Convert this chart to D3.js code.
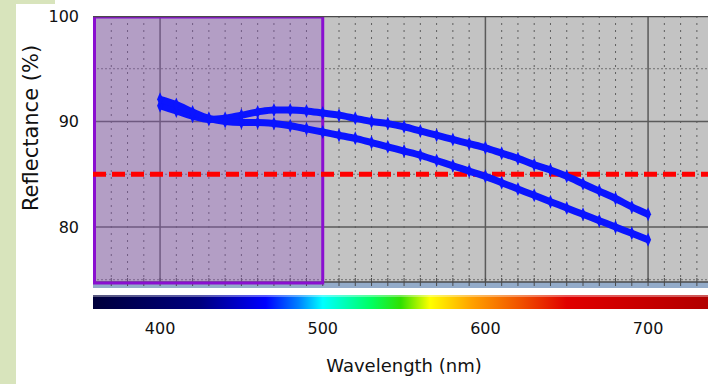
<!DOCTYPE html>
<html>
<head>
<meta charset="utf-8">
<script src="https://cdn.jsdelivr.net/npm/d3@7"></script>
<style>
  body { margin: 0; background: #fff; }
  svg { display: block; }
</style>
</head>
<body>
<svg id="chart" width="708" height="384"></svg>
<script>
// wavelengths (nm) sampled every 10 nm
const wavelengths = d3.range(400, 701, 10);

// reflectance (%)
const upperCurve = [91.5, 91.0, 90.5, 90.2, 90.3, 90.6, 90.9, 91.1, 91.1, 91.0,
  90.8, 90.6, 90.3, 90.0, 89.8, 89.5, 89.1, 88.7, 88.3, 87.9,
  87.5, 87.0, 86.5, 85.9, 85.4, 84.8, 84.1, 83.4, 82.7, 81.9, 81.2];
const lowerCurve = [92.1, 91.6, 90.9, 90.3, 90.0, 89.9, 89.9, 89.8, 89.6, 89.3,
  89.0, 88.7, 88.4, 88.0, 87.6, 87.2, 86.8, 86.3, 85.8, 85.3,
  84.8, 84.2, 83.6, 83.0, 82.4, 81.8, 81.2, 80.6, 80.0, 79.4, 78.8];

const xTicks = [400, 500, 600, 700];
const yTicks = [80, 90, 100];
const threshold = 85;
const highlightRange = [360, 500];

// spectrum colour stops for the bar under the plot
const spectrumStops = [
  { nm: 360, color: "#00003c" },
  { nm: 425, color: "#000080" },
  { nm: 465, color: "#0000ff" },
  { nm: 485, color: "#0080ff" },
  { nm: 500, color: "#00ffff" },
  { nm: 530, color: "#00ff60" },
  { nm: 548, color: "#30e000" },
  { nm: 566, color: "#ffff00" },
  { nm: 592, color: "#ffa000" },
  { nm: 622, color: "#f05000" },
  { nm: 650, color: "#e00000" },
  { nm: 740, color: "#b00000" }
];

const svg = d3.select("#chart");

const plotLeft = 95, plotTop = 16, plotBottom = 282;
const x = d3.scaleLinear().domain([360, 740]).range([plotLeft, plotLeft + 380 * 1.6267]);
const y = d3.scaleLinear().domain([74.5, 100]).range([285, plotTop]);

// light green page decoration
svg.append("rect").attr("x", 0).attr("y", 0).attr("width", 16).attr("height", 384).attr("fill", "#d8e4bc");
svg.append("rect").attr("x", 16).attr("y", 0).attr("width", 39).attr("height", 4).attr("fill", "#d8e4bc");

const defs = svg.append("defs");
defs.append("clipPath").attr("id", "plotClip")
  .append("rect").attr("x", 93).attr("y", plotTop).attr("width", 708 - 93).attr("height", plotBottom - plotTop + 6);

const plot = svg.append("g").attr("clip-path", "url(#plotClip)");

// gray plot background and blue strip below it
plot.append("rect").attr("x", 93).attr("y", plotTop).attr("width", 620).attr("height", plotBottom - plotTop).attr("fill", "#c3c3c3");
plot.append("rect").attr("x", 93).attr("y", plotBottom).attr("width", 620).attr("height", 6).attr("fill", "#93abc9");

// minor dotted grid
const minorX = d3.range(370, 741, 10).filter(d => d % 100 !== 0);
plot.selectAll(".minorX").data(minorX).enter().append("line")
  .attr("x1", d => x(d)).attr("x2", d => x(d))
  .attr("y1", plotTop).attr("y2", plotBottom)
  .attr("stroke", "#5e5e5e").attr("stroke-width", 1).attr("stroke-dasharray", "2,5");

plot.selectAll(".minorY").data([95, 85, 75]).enter().append("line")
  .attr("x1", 93).attr("x2", 713)
  .attr("y1", d => y(d)).attr("y2", d => y(d))
  .attr("stroke", "#6e6e6e").attr("stroke-width", 1).attr("stroke-dasharray", "2,2");

// major grid
plot.selectAll(".majorX").data(xTicks).enter().append("line")
  .attr("x1", d => x(d)).attr("x2", d => x(d))
  .attr("y1", plotTop).attr("y2", plotBottom)
  .attr("stroke", "#5a5a5a").attr("stroke-width", 1.5);

plot.selectAll(".majorY").data(yTicks).enter().append("line")
  .attr("x1", 93).attr("x2", 713)
  .attr("y1", d => y(d)).attr("y2", d => y(d))
  .attr("stroke", "#5a5a5a").attr("stroke-width", 1.5);

// bottom axis line with little ticks
plot.append("line").attr("x1", 93).attr("x2", 713).attr("y1", plotBottom).attr("y2", plotBottom)
  .attr("stroke", "#4a4a4a").attr("stroke-width", 1.5);
plot.selectAll(".btick").data(d3.range(370, 741, 10)).enter().append("line")
  .attr("x1", d => x(d)).attr("x2", d => x(d))
  .attr("y1", plotBottom - 4).attr("y2", plotBottom + 4)
  .attr("stroke", "#4a4a4a").attr("stroke-width", 1);

// highlighted band (purple)
plot.append("rect")
  .attr("x", x(highlightRange[0]) - 0.5).attr("y", plotTop + 1)
  .attr("width", x(highlightRange[1]) - x(highlightRange[0]) + 0.5)
  .attr("height", plotBottom - plotTop)
  .attr("fill", "rgba(150, 90, 200, 0.35)")
  .attr("stroke", "#8a0fd0").attr("stroke-width", 3);

// top border
plot.append("line").attr("x1", 93).attr("x2", 713).attr("y1", plotTop + 0.5).attr("y2", plotTop + 0.5)
  .attr("stroke", "#4a4a4a").attr("stroke-width", 1.5);

// threshold
plot.append("line").attr("x1", 93).attr("x2", 713)
  .attr("y1", y(threshold)).attr("y2", y(threshold))
  .attr("stroke", "#ff0000").attr("stroke-width", 5).attr("stroke-dasharray", "13,6");

// reflectance curves
const line = d3.line().x(d => x(d[0])).y(d => y(d[1])).curve(d3.curveMonotoneX);
[upperCurve, lowerCurve].forEach(series => {
  const pts = wavelengths.map((w, i) => [w, series[i]]);
  plot.append("path").datum(pts)
    .attr("d", line)
    .attr("fill", "none").attr("stroke", "#0a14ff").attr("stroke-width", 7)
    .attr("stroke-linejoin", "round");
  plot.selectAll(null).data(pts).enter().append("path")
    .attr("d", d => `M${x(d[0])},${y(d[1]) - 7}L${x(d[0]) + 3},${y(d[1])}L${x(d[0])},${y(d[1]) + 7}L${x(d[0]) - 3},${y(d[1])}Z`)
    .attr("fill", "#0a14ff");
});

// spectrum bar
const grad = defs.append("linearGradient").attr("id", "spectrum")
  .attr("gradientUnits", "userSpaceOnUse")
  .attr("x1", x(360)).attr("x2", x(740)).attr("y1", 0).attr("y2", 0);
grad.selectAll("stop").data(spectrumStops).enter().append("stop")
  .attr("offset", d => (d.nm - 360) / 380)
  .attr("stop-color", d => d.color);
svg.append("rect").attr("x", 93).attr("y", 295).attr("width", 615).attr("height", 14)
  .attr("fill", "url(#spectrum)");
svg.append("rect").attr("x", 93).attr("y", 295).attr("width", 615).attr("height", 2)
  .attr("fill", "#ffffff").attr("opacity", 0.35);

// tick labels
svg.selectAll(".xlab").data(xTicks).enter().append("text")
  .attr("x", d => x(d)).attr("y", 334)
  .attr("text-anchor", "middle")
  .attr("font-family", "DejaVu Sans, Verdana, sans-serif").attr("font-size", 16)
  .attr("fill", "#111").text(d => d);

svg.selectAll(".ylab").data(yTicks).enter().append("text")
  .attr("x", 79).attr("y", d => y(d) + 6)
  .attr("text-anchor", "end")
  .attr("font-family", "DejaVu Sans, Verdana, sans-serif").attr("font-size", 16)
  .attr("fill", "#111").text(d => d);

svg.append("text").attr("x", 404).attr("y", 372)
  .attr("text-anchor", "middle")
  .attr("font-family", "DejaVu Sans, Verdana, sans-serif").attr("font-size", 18)
  .attr("fill", "#111").text("Wavelength (nm)");

svg.append("text")
  .attr("transform", "translate(38,128) rotate(-90)")
  .attr("text-anchor", "middle")
  .attr("font-family", "DejaVu Sans, Verdana, sans-serif").attr("font-size", 21)
  .attr("fill", "#111").text("Reflectance (%)");
</script>
</body>
</html>
